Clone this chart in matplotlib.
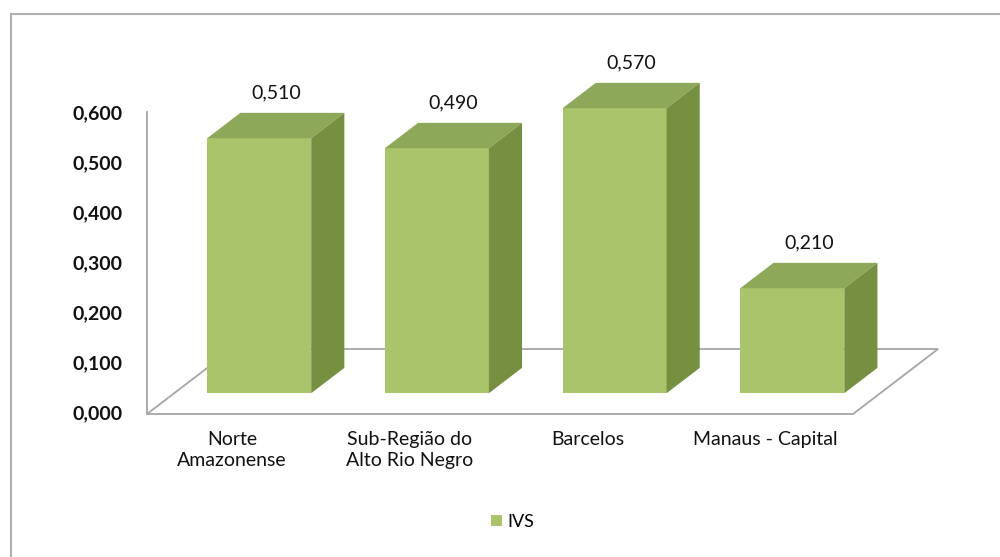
import matplotlib
matplotlib.use("Agg")
import matplotlib.pyplot as plt
from matplotlib.patches import Polygon
from matplotlib.lines import Line2D

categories = ["Norte\nAmazonense", "Sub-Região do\nAlto Rio Negro", "Barcelos", "Manaus - Capital"]
values = [0.510, 0.490, 0.570, 0.210]
yticks = [0.0, 0.1, 0.2, 0.3, 0.4, 0.5, 0.6]
series_name = "IVS"

FRONT = "#AAC46B"
TOP = "#8EA85A"
SIDE = "#768F41"
GRID = "#A6A6A6"
FONT = "Lato"
TXT = "#111111"

W, H = 1000, 557
fig = plt.figure(figsize=(W / 100, H / 100), dpi=100)
ax = fig.add_axes([0, 0, 1, 1])
SX, SY = 177.7, 500.0          # pixels per x unit / per value unit
X0PX, Y0PX = 232, 143          # pixel of category 0 / value 0 at floor front
ax.set_xlim(-X0PX / SX, (W - X0PX) / SX)
ax.set_ylim(-Y0PX / SY, (H - Y0PX) / SY)
ax.axis("off")

# depth vector of the full floor (data units)
DX, DY = 85 / SX, 65 / SY
d_front, d_back = 0.32, 0.71
bw = 104 / SX
bdx, bdy = (d_back - d_front) * DX, (d_back - d_front) * DY
fx, fy = d_front * DX, d_front * DY

n = len(categories)
xs = list(range(n))
left = -DX
right = (n - 1) + 0.495
# floor
floor = Polygon([(left, 0), (right, 0), (right + DX, DY), (left + DX, DY)],
                closed=True, facecolor="white", edgecolor=GRID, lw=1.3, zorder=1)
ax.add_patch(floor)
ax.plot([left, left], [0, yticks[-1] + 0.005], color=GRID, lw=1.3, zorder=1)

for t in yticks:
    ax.text(left - 24 / SX, t, f"{t:.3f}".replace(".", ","), ha="right", va="center",
            fontsize=14, fontweight="bold", family=FONT, color=TXT)

for i, v in zip(xs, values):
    x0 = i + fx - bw / 2
    x1 = i + fx + bw / 2
    y0 = fy
    ax.bar(i + fx, v, width=bw, bottom=y0, color=FRONT, edgecolor="none", zorder=3,
           label=series_name if i == 0 else None)
    top = Polygon([(x0, y0 + v), (x1, y0 + v), (x1 + bdx, y0 + v + bdy), (x0 + bdx, y0 + v + bdy)],
                  closed=True, facecolor=TOP, edgecolor="none", zorder=3)
    side = Polygon([(x1, y0), (x1 + bdx, y0 + bdy), (x1 + bdx, y0 + v + bdy), (x1, y0 + v)],
                   closed=True, facecolor=SIDE, edgecolor="none", zorder=3)
    ax.add_patch(top)
    ax.add_patch(side)
    ax.text(i + fx + bdx / 2, y0 + v + bdy + 11 / SY, f"{v:.3f}".replace(".", ","),
            ha="center", va="bottom", fontsize=14, family=FONT, color=TXT)
    ax.text(i, -17 / SY, categories[i], ha="center", va="top", fontsize=14,
            family=FONT, color=TXT, linespacing=1.3)

leg = fig.legend(loc="center", bbox_to_anchor=(0.513, 1 - 522 / H), frameon=False,
                 handlelength=0.6, handleheight=0.6, handletextpad=0.3,
                 prop={"family": FONT, "size": 13})

# chart border (top and left visible)
fig.add_artist(Line2D([11 / W, 11 / W], [0, 1 - 14 / H], color="#B0B0B0", lw=1.5))
fig.add_artist(Line2D([11 / W, 1], [1 - 14 / H, 1 - 14 / H], color="#B0B0B0", lw=1.5))

fig.savefig("out.png", dpi=100, facecolor="white")
